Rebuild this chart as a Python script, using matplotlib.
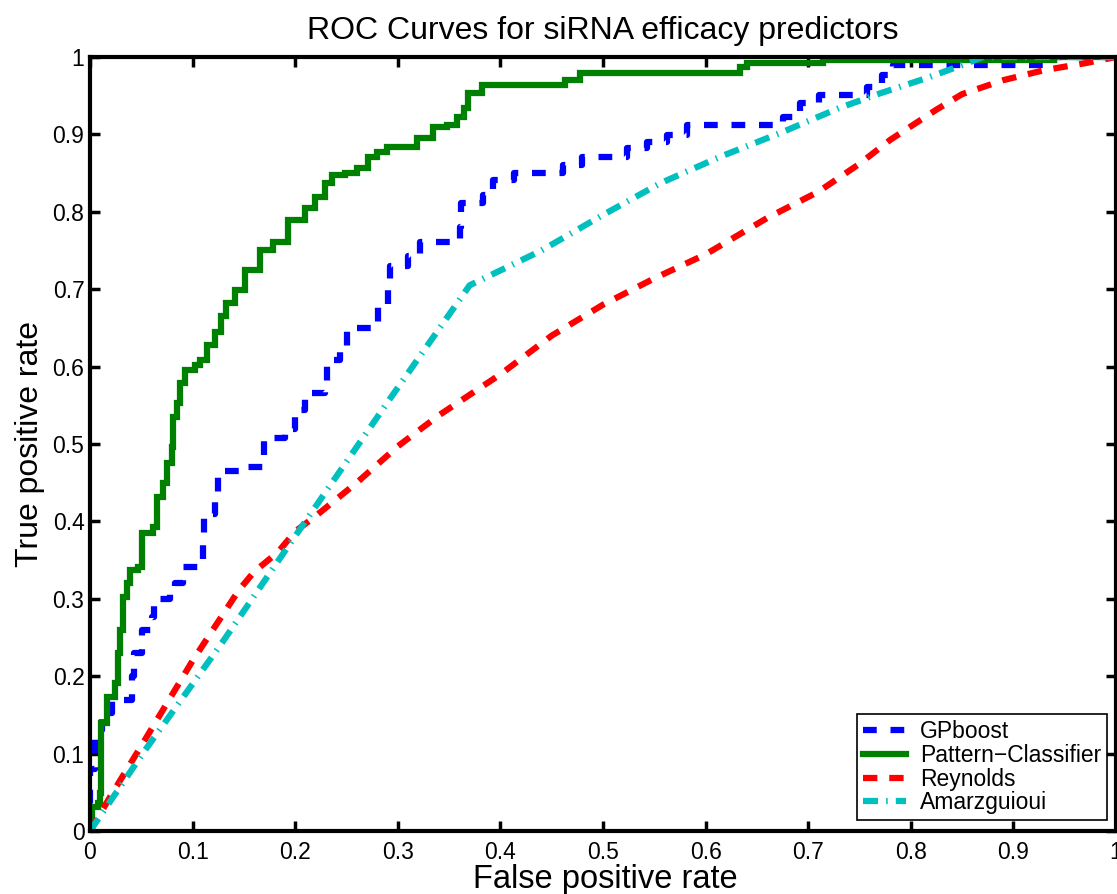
import matplotlib
matplotlib.use("Agg")
import matplotlib.pyplot as plt
from matplotlib.lines import Line2D

plt.rcParams['font.family'] = ['Liberation Sans', 'DejaVu Sans']

title = "ROC Curves for siRNA efficacy predictors"
xlabel = "False positive rate"
ylabel = "True positive rate"
labels = ["GPboost", "Pattern\u2212Classifier", "Reynolds", "Amarzguioui"]
ticks = [0, 0.1, 0.2, 0.3, 0.4, 0.5, 0.6, 0.7, 0.8, 0.9, 1]
tick_labels = ["0", "0.1", "0.2", "0.3", "0.4", "0.5", "0.6", "0.7", "0.8", "0.9", "1"]

# GPboost (step ROC)
gp_fpr = [0, 0, 0.005, 0.012, 0.021, 0.041, 0.043, 0.051, 0.06, 0.062, 0.078, 0.083, 0.091,
          0.107, 0.11, 0.111, 0.122, 0.125, 0.128, 0.146, 0.169, 0.17, 0.19, 0.2, 0.21, 0.229,
          0.231, 0.244, 0.25, 0.281, 0.29, 0.292, 0.31, 0.322, 0.361, 0.362, 0.383, 0.393,
          0.413, 0.461, 0.48, 0.523, 0.543, 0.562, 0.582, 0.675, 0.692, 0.711, 0.757, 0.772,
          0.783, 0.94, 1.0]
gp_tpr = [0, 0.08, 0.13, 0.152, 0.169, 0.2, 0.23, 0.26, 0.276, 0.30, 0.315, 0.32, 0.341,
          0.35, 0.385, 0.41, 0.43, 0.457, 0.465, 0.47, 0.481, 0.508, 0.52, 0.544, 0.566, 0.574,
          0.609, 0.621, 0.65, 0.68, 0.70, 0.73, 0.743, 0.761, 0.78, 0.811, 0.822, 0.841,
          0.85, 0.86, 0.871, 0.882, 0.89, 0.899, 0.912, 0.922, 0.94, 0.951, 0.961, 0.977,
          0.99, 1.0, 1.0]

# Pattern-Classifier (step ROC)
pc_fpr = [0, 0.002, 0.008, 0.010, 0.011, 0.017, 0.024, 0.027, 0.029, 0.032, 0.036, 0.039,
          0.047, 0.051, 0.061, 0.065, 0.071, 0.075, 0.080, 0.081, 0.085, 0.088, 0.093, 0.102,
          0.107, 0.114, 0.122, 0.128, 0.133, 0.141, 0.151, 0.166, 0.178, 0.193, 0.21, 0.219,
          0.229, 0.236, 0.249, 0.26, 0.271, 0.28, 0.289, 0.319, 0.334, 0.348, 0.358, 0.365,
          0.368, 0.382, 0.463, 0.478, 0.634, 0.64, 0.714, 0.94, 1.0]
pc_tpr = [0, 0.031, 0.036, 0.049, 0.14, 0.173, 0.191, 0.23, 0.26, 0.302, 0.32, 0.337,
          0.341, 0.385, 0.393, 0.431, 0.45, 0.475, 0.496, 0.535, 0.553, 0.579, 0.596, 0.602,
          0.608, 0.628, 0.645, 0.665, 0.682, 0.699, 0.725, 0.751, 0.761, 0.789, 0.805, 0.819,
          0.837, 0.848, 0.85, 0.857, 0.871, 0.877, 0.884, 0.895, 0.91, 0.912, 0.922, 0.934,
          0.953, 0.964, 0.97, 0.979, 0.987, 0.992, 0.996, 1.0, 1.0]

# Reynolds
rey_fpr = [0, 0.02, 0.05, 0.1, 0.145, 0.16, 0.183, 0.2, 0.22, 0.26, 0.3, 0.34, 0.4, 0.45,
           0.5, 0.55, 0.6, 0.66, 0.71, 0.75, 0.78, 0.825, 0.85, 0.89, 0.93, 0.97, 1.0]
rey_tpr = [0, 0.045, 0.11, 0.22, 0.311, 0.335, 0.36, 0.387, 0.407, 0.45, 0.497, 0.537, 0.59,
           0.64, 0.68, 0.714, 0.745, 0.792, 0.826, 0.862, 0.893, 0.932, 0.952, 0.97, 0.983,
           0.992, 1.0]

# Amarzguioui
am_fpr = [0, 0.054, 0.127, 0.2, 0.289, 0.37, 0.44, 0.5, 0.556, 0.614, 0.673, 0.73, 0.77,
          0.816, 0.855, 0.87, 1.0]
am_tpr = [0, 0.105, 0.24, 0.381, 0.552, 0.705, 0.75, 0.796, 0.837, 0.871, 0.902, 0.934,
          0.953, 0.973, 0.992, 1.0, 1.0]

fig = plt.figure(figsize=(11.17, 8.94), dpi=100)
ax = fig.add_axes([90/1117, 63/894, 1026/1117, 774/894])

lw = 4.5
l1, = ax.plot(gp_fpr, gp_tpr, color=(0, 0, 1), lw=lw, drawstyle='steps-post',
              dashes=(2.2, 2.2), dash_capstyle='butt', label=labels[0])
l2, = ax.plot(pc_fpr, pc_tpr, color=(0, 0.5, 0), lw=lw, drawstyle='steps-post',
              solid_joinstyle='miter', label=labels[1])
l3, = ax.plot(rey_fpr, rey_tpr, color=(1, 0, 0), lw=lw, dashes=(2.3, 1.9),
              dash_capstyle='butt', label=labels[2])
l4, = ax.plot(am_fpr, am_tpr, color=(0, 0.75, 0.75), lw=lw, dashes=(2.4, 1.3, 0.25, 1.3),
              dash_capstyle='butt', label=labels[3])

ax.set_xlim(0, 1)
ax.set_ylim(0, 1)
ax.set_xticks(ticks)
ax.set_xticklabels(tick_labels)
ax.set_yticks(ticks)
ax.set_yticklabels(tick_labels)
ax.tick_params(direction='in', length=7, width=2.5, top=True, right=True, labelsize=16.5)
ax.tick_params(axis='x', pad=7)
ax.tick_params(axis='y', pad=4)
for s in ax.spines.values():
    s.set_linewidth(3)

ax.set_title(title, fontsize=23, pad=13)
fig.text(605/1117, 6/894, xlabel, fontsize=23.5, ha='center', va='baseline')
fig.text(30/1117, 1 - 444/894, ylabel, fontsize=23, ha='center', va='center', rotation=90)

leg = ax.legend(handles=[l1, l2, l3, l4], loc='lower right',
                bbox_to_anchor=((1107-90)/1026, (831-820)/774), borderaxespad=0,
                fontsize=16.5, fancybox=False, framealpha=1, edgecolor='black',
                handlelength=1.9, handletextpad=0.6, labelspacing=0.03, borderpad=0.25)
leg.get_frame().set_linewidth(1.2)

fig.savefig("out.png", dpi=100)
